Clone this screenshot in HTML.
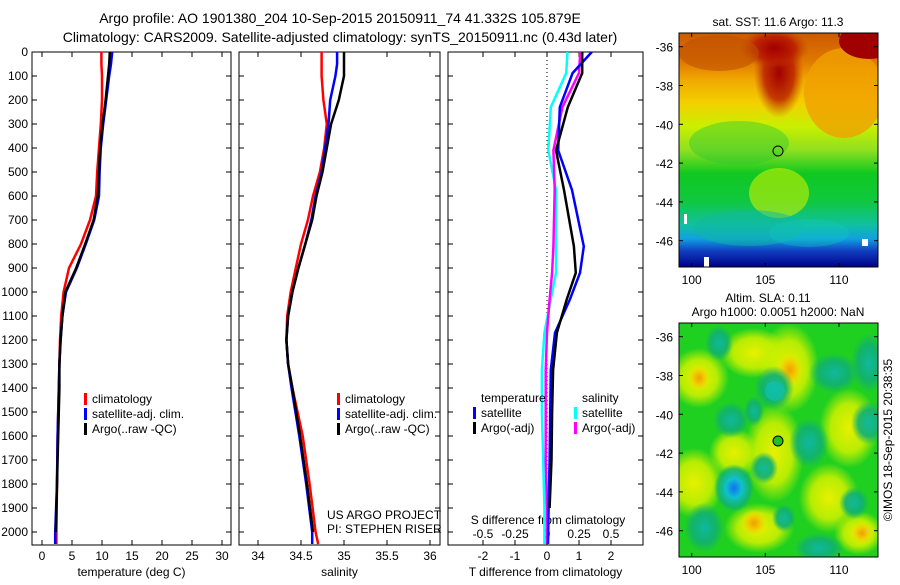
<!DOCTYPE html>
<html><head><meta charset="utf-8">
<style>
html,body{margin:0;padding:0;background:#fff;}
body{width:900px;height:580px;overflow:hidden;font-family:"Liberation Sans",sans-serif;}
svg text{font-family:"Liberation Sans",sans-serif;fill:#000;}
</style></head>
<body>
<svg id="chart" width="900" height="580" viewBox="0 0 900 580" xmlns="http://www.w3.org/2000/svg">
<defs>
<linearGradient id="sstg" x1="0" y1="0" x2="0" y2="1">
<stop offset="0" stop-color="#cc5a00"/>
<stop offset="0.12" stop-color="#e07800"/>
<stop offset="0.2" stop-color="#f0a800"/>
<stop offset="0.3" stop-color="#f4d000"/>
<stop offset="0.4" stop-color="#c8f000"/>
<stop offset="0.5" stop-color="#90e020"/>
<stop offset="0.6" stop-color="#10c820"/>
<stop offset="0.72" stop-color="#10c840"/>
<stop offset="0.82" stop-color="#10c0a0"/>
<stop offset="0.88" stop-color="#10a0e0"/>
<stop offset="0.93" stop-color="#1040c0"/>
<stop offset="1" stop-color="#000088"/>
</linearGradient>
<radialGradient id="blobY"><stop offset="0" stop-color="#e8f000"/><stop offset="0.6" stop-color="#c8f000" stop-opacity="0.9"/><stop offset="1" stop-color="#c8f000" stop-opacity="0"/></radialGradient>
<radialGradient id="blobO"><stop offset="0" stop-color="#f0a000"/><stop offset="0.5" stop-color="#f0d000"/><stop offset="1" stop-color="#e0f000" stop-opacity="0"/></radialGradient>
<radialGradient id="blobT"><stop offset="0" stop-color="#10b8a0"/><stop offset="0.6" stop-color="#10b070" stop-opacity="0.9"/><stop offset="1" stop-color="#10b070" stop-opacity="0"/></radialGradient>
<radialGradient id="blobB"><stop offset="0" stop-color="#1070f0"/><stop offset="0.4" stop-color="#10c0d0"/><stop offset="0.8" stop-color="#10b070" stop-opacity="0.8"/><stop offset="1" stop-color="#10b070" stop-opacity="0"/></radialGradient>
<radialGradient id="blobR"><stop offset="0" stop-color="#a00000"/><stop offset="0.6" stop-color="#b81800" stop-opacity="0.8"/><stop offset="1" stop-color="#c04000" stop-opacity="0"/></radialGradient>
</defs>

<text x="340" y="23" font-size="14" text-anchor="middle">Argo profile: AO 1901380_204 10-Sep-2015 20150911_74 41.332S 105.879E</text>
<text x="340" y="42" font-size="14" text-anchor="middle">Climatology: CARS2009. Satellite-adjusted climatology: synTS_20150911.nc (0.43d later)</text>

<g id="p1"></g>
<g id="p2"></g>
<g id="p3"></g>

<!-- SST map -->
<g>
<text x="778" y="26" font-size="12" text-anchor="middle">sat. SST: 11.6 Argo: 11.3</text>
<svg x="679" y="33" width="199" height="234" viewBox="0 0 199 234" preserveAspectRatio="none">
<rect width="199" height="234" fill="url(#sstg)"/>
<ellipse cx="165" cy="60" rx="40" ry="45" fill="#f0a000" opacity="0.8"/>
<ellipse cx="100" cy="40" rx="25" ry="45" fill="url(#blobR)"/>
<ellipse cx="95" cy="15" rx="35" ry="20" fill="url(#blobR)"/>
<ellipse cx="190" cy="8" rx="30" ry="18" fill="#a00000"/>
<ellipse cx="40" cy="20" rx="40" ry="18" fill="#c05000" opacity="0.6"/>
<ellipse cx="60" cy="110" rx="50" ry="22" fill="#30c830" opacity="0.45"/>
<ellipse cx="100" cy="160" rx="30" ry="25" fill="#c8f000" opacity="0.6"/>
<ellipse cx="70" cy="195" rx="55" ry="18" fill="#10b8a0" opacity="0.5"/>
<ellipse cx="130" cy="200" rx="40" ry="14" fill="#10c8c0" opacity="0.35"/>
<rect x="5" y="181" width="3" height="10" fill="#fff"/>
<rect x="25" y="224" width="5" height="10" fill="#fff"/>
<rect x="183" y="206" width="6" height="7" fill="#fff"/>
</svg>
<circle cx="778" cy="151" r="5" fill="none" stroke="#000" stroke-width="1"/>
<rect x="679" y="33" width="199" height="234" fill="none" stroke="#000" stroke-width="1"/>
<g id="m1ax"></g>
</g>

<!-- SLA map -->
<g>
<text x="768" y="302" font-size="12" text-anchor="middle">Altim. SLA: 0.11</text>
<text x="778" y="316" font-size="12" text-anchor="middle">Argo h1000: 0.0051 h2000: NaN</text>
<svg x="679" y="323" width="199" height="234" viewBox="0 0 199 234" preserveAspectRatio="none">
<rect width="199" height="234" fill="#20d020"/>
<ellipse cx="20" cy="55" rx="30" ry="30" fill="url(#blobY)"/>
<ellipse cx="15" cy="160" rx="30" ry="35" fill="url(#blobY)"/>
<ellipse cx="75" cy="30" rx="35" ry="25" fill="url(#blobY)"/>
<ellipse cx="110" cy="45" rx="30" ry="45" fill="url(#blobY)"/>
<ellipse cx="111" cy="47" rx="14" ry="18" fill="url(#blobO)"/>
<ellipse cx="20" cy="55" rx="12" ry="14" fill="url(#blobO)"/>
<ellipse cx="95" cy="130" rx="30" ry="50" fill="url(#blobY)"/>
<ellipse cx="55" cy="130" rx="25" ry="25" fill="url(#blobY)"/>
<ellipse cx="170" cy="105" rx="30" ry="40" fill="url(#blobY)"/>
<ellipse cx="150" cy="175" rx="30" ry="35" fill="url(#blobY)"/>
<ellipse cx="80" cy="205" rx="35" ry="25" fill="url(#blobY)"/>
<ellipse cx="75" cy="200" rx="14" ry="14" fill="url(#blobO)"/>
<ellipse cx="180" cy="210" rx="25" ry="22" fill="url(#blobY)"/>
<ellipse cx="183" cy="210" rx="12" ry="12" fill="url(#blobO)"/>
<ellipse cx="40" cy="20" rx="14" ry="18" fill="url(#blobT)"/>
<ellipse cx="95" cy="65" rx="20" ry="22" fill="url(#blobT)"/>
<ellipse cx="96" cy="68" rx="10" ry="10" fill="#10c0b0" opacity="0.7"/>
<ellipse cx="52" cy="97" rx="18" ry="18" fill="url(#blobT)"/>
<ellipse cx="75" cy="88" rx="10" ry="15" fill="url(#blobT)"/>
<ellipse cx="190" cy="100" rx="18" ry="22" fill="url(#blobT)"/>
<ellipse cx="190" cy="40" rx="18" ry="30" fill="url(#blobT)"/>
<ellipse cx="155" cy="50" rx="25" ry="20" fill="url(#blobT)"/>
<ellipse cx="55" cy="165" rx="20" ry="24" fill="url(#blobB)"/>
<ellipse cx="85" cy="145" rx="14" ry="16" fill="url(#blobT)"/>
<ellipse cx="25" cy="205" rx="20" ry="25" fill="url(#blobT)"/>
<ellipse cx="140" cy="225" rx="25" ry="15" fill="url(#blobT)"/>
<ellipse cx="130" cy="120" rx="20" ry="25" fill="url(#blobT)"/>
<ellipse cx="175" cy="180" rx="15" ry="16" fill="url(#blobT)"/>
<ellipse cx="105" cy="195" rx="12" ry="14" fill="url(#blobT)"/>
</svg>
<circle cx="778" cy="441" r="5" fill="#20c020" stroke="#000" stroke-width="1"/>
<rect x="679" y="323" width="199" height="234" fill="none" stroke="#000" stroke-width="1"/>
<g id="m2ax"></g>
</g>
<text transform="translate(892,440) rotate(-90)" font-size="12" text-anchor="middle">©IMOS 18-Sep-2015 20:38:35</text>
</svg>

<script>
// ---- data ----
const depthTS = [0,50,100,200,300,400,500,600,700,800,900,1000,1100,1200,1300,1400,1600,1800,2000,2050];
const tempClim = [9.9,9.9,10.0,10.0,9.8,9.5,9.2,9.0,8.0,6.5,4.5,3.6,3.2,3.0,2.9,2.8,2.6,2.5,2.4,2.4];
const tempSat  = [11.7,11.5,11.2,10.7,10.2,9.8,9.6,9.5,8.7,7.3,5.8,4.0,3.4,3.1,2.9,2.8,2.6,2.5,2.2,2.2];
const tempArgo = [11.3,11.2,11.0,10.6,10.1,9.7,9.5,9.3,8.6,7.2,5.7,3.9,3.4,3.1,2.9,2.9,2.7,2.5,2.3,2.3];
const salClim = [34.74,34.74,34.74,34.76,34.8,34.77,34.72,34.64,34.58,34.5,34.44,34.38,34.34,34.33,34.35,34.4,34.52,34.6,34.67,34.7];
const salSat  = [34.92,34.92,34.9,34.84,34.82,34.78,34.74,34.67,34.62,34.55,34.47,34.4,34.35,34.33,34.35,34.39,34.48,34.56,34.63,34.63];
const salArgo = [35.0,35.0,35.0,34.94,34.85,34.8,34.75,34.68,34.63,34.55,34.47,34.4,34.35,34.33,34.35,34.4,34.49,34.57,34.64,34.64];
const depthDiff = [0,88,230,410,575,810,920,1030,1170,1325,1500,1700,1900,2050];
const tDiffSat  = [1.4,0.8,0.4,0.35,0.78,1.15,1.03,0.72,0.25,0.12,0.1,0.08,0.05,0.03];
const tDiffArgo = [1.1,1.1,0.65,0.28,0.53,0.84,0.9,0.62,0.31,0.19,0.16,0.14,0.08,0.03];
const sDiffSat  = [0.16,0.15,0.03,0.01,0.07,0.07,0.07,0.03,-0.02,-0.04,-0.04,-0.03,-0.02,-0.02];
const sDiffArgo = [0.26,0.25,0.12,0.05,0.06,0.05,0.04,0.02,0.0,-0.01,-0.01,-0.01,0.0,0.0];
const depthTicks = [0,100,200,300,400,500,600,700,800,900,1000,1100,1200,1300,1400,1500,1600,1700,1800,1900,2000];
const tempTicks = [0,5,10,15,20,25,30];
const salTicks = [34,34.5,35,35.5,36];
const salTickLabels = ["34","34.5","35","35.5","36"];
const tDiffTicks = [-2,-1,0,1,2];
const sDiffTicks = [-0.5,-0.25,0,0.25,0.5];
const sDiffTickLabels = ["-0.5","-0.25","0","0.25","0.5"];
const latTicks = [-36,-38,-40,-42,-44,-46];
const lonTicks = [100,105,110];

const NS = "http://www.w3.org/2000/svg";
const TOP = 52, BOT = 545;
const yD = d => TOP + d * 0.24;
const xT = t => 42 + t * 6;
const xS = s => 258 + (s - 34) * 86;
const xTD = v => 547 + v * 32;
const xSD = v => 547 + v * 128;
const xLon = l => 691.7 + (l - 100) * 14.73;
function yLat1(l){ return 46.7 + (-36 - l) * 19.4; }
function yLat2(l){ return 336.7 + (-36 - l) * 19.4; }

function mk(tag, attrs, parent){
  const e = document.createElementNS(NS, tag);
  for (const k in attrs) e.setAttribute(k, attrs[k]);
  parent.appendChild(e);
  return e;
}
function txt(parent, x, y, s, anchor, size){
  const t = mk('text', {x:x, y:y, 'font-size':size||12, 'text-anchor':anchor||'start'}, parent);
  t.textContent = s;
  return t;
}
function line(parent, xs, ds, xf, color, name, w){
  const pts = xs.map((v,i)=> xf(v).toFixed(1)+','+yD(ds[i]).toFixed(1)).join(' ');
  const p = mk('polyline', {points:pts, fill:'none', stroke:color, 'stroke-width':w||2.5}, parent);
  
  
}
function frame(parent, x0, x1, ticks, xf, labels, xlabel){
  mk('rect', {x:x0, y:TOP, width:x1-x0, height:BOT-TOP, fill:'none', stroke:'#000', 'stroke-width':1}, parent);
  ticks.forEach((t,i)=>{
    const x = xf(t);
    mk('line', {x1:x, x2:x, y1:BOT, y2:BOT-5, stroke:'#000'}, parent);
    mk('line', {x1:x, x2:x, y1:TOP, y2:TOP+5, stroke:'#000'}, parent);
    if (labels) txt(parent, x, 560, labels[i], 'middle', 12);
  });
  depthTicks.forEach(d=>{
    mk('line', {x1:x0, x2:x0+5, y1:yD(d), y2:yD(d), stroke:'#000'}, parent);
    mk('line', {x1:x1-5, x2:x1, y1:yD(d), y2:yD(d), stroke:'#000'}, parent);
  });
  const xl = txt(parent, (x0+x1)/2, 576, xlabel, 'middle', 12);
  
  
}
function legend(parent, x, y, items){
  items.forEach((it,i)=>{
    mk('rect', {x:x, y:y+i*15-9, width:3, height:12, fill:it[1]}, parent);
    txt(parent, x+8, y+i*15+1, it[0], 'start', 12);
  });
}

// panel 1
const p1 = document.getElementById('p1');
frame(p1, 32, 231, tempTicks, xT, tempTicks.map(String), 'temperature (deg C)');
depthTicks.forEach(d=>{ const t = txt(p1, 28, yD(d)+4, String(d), 'end', 12);
  
   });
line(p1, tempClim, depthTS, xT, '#ff0000', 'temp-climatology-line');
line(p1, tempSat, depthTS, xT, '#0000ff', 'temp-satellite-line');
line(p1, tempArgo.slice(0,19), depthTS.slice(0,19), xT, '#000000', 'temp-argo-line');
legend(p1, 84, 402, [['climatology','#ff0000'],['satellite-adj. clim.','#0000ff'],['Argo(..raw -QC)','#000']]);

// panel 2
const p2 = document.getElementById('p2');
frame(p2, 239, 440, salTicks, xS, salTickLabels, 'salinity');
line(p2, salClim, depthTS, xS, '#ff0000', 'sal-climatology-line');
line(p2, salSat, depthTS, xS, '#0000ff', 'sal-satellite-line');
line(p2, salArgo.slice(0,19), depthTS.slice(0,19), xS, '#000000', 'sal-argo-line');
legend(p2, 337, 402, [['climatology','#ff0000'],['satellite-adj. clim.','#0000ff'],['Argo(..raw -QC)','#000']]);
txt(p2, 327, 519, 'US ARGO PROJECT', 'start', 12);
txt(p2, 327, 533, 'PI: STEPHEN RISER', 'start', 12);

// panel 3
const p3 = document.getElementById('p3');
frame(p3, 448, 643, tDiffTicks, xTD, tDiffTicks.map(String), 'T difference from climatology');
mk('line', {x1:547, x2:547, y1:TOP, y2:BOT, stroke:'#000', 'stroke-dasharray':'1,3'}, p3);
sDiffTicks.forEach((v,i)=> txt(p3, xSD(v), 538, sDiffTickLabels[i], 'middle', 12));
txt(p3, 548, 524, 'S difference from climatology', 'middle', 12);
line(p3, sDiffSat, depthDiff, xSD, '#00ffff', 'sdiff-satellite-line');
line(p3, sDiffArgo, depthDiff, xSD, '#ff00ff', 'sdiff-argo-line');
line(p3, tDiffSat, depthDiff, xTD, '#0000ff', 'tdiff-satellite-line');
line(p3, tDiffArgo.slice(0,13), depthDiff.slice(0,13), xTD, '#000000', 'tdiff-argo-line');
txt(p3, 481, 402, 'temperature', 'start', 12);
txt(p3, 582, 402, 'salinity', 'start', 12);
legend(p3, 473, 416, [['satellite','#0000ff'],['Argo(-adj)','#000']]);
legend(p3, 574, 416, [['satellite','#00ffff'],['Argo(-adj)','#ff00ff']]);

// map axes
function mapAxes(id, yf, y0, y1){
  const g = document.getElementById(id);
  latTicks.forEach(l=>{
    const y = yf(l);
    mk('line', {x1:679, x2:683, y1:y, y2:y, stroke:'#000'}, g);
    mk('line', {x1:874, x2:878, y1:y, y2:y, stroke:'#000'}, g);
    txt(g, 673, y+5, String(l), 'end', 12);
  });
  lonTicks.forEach(l=>{
    const x = xLon(l);
    mk('line', {x1:x, x2:x, y1:y0, y2:y0+4, stroke:'#000'}, g);
    mk('line', {x1:x, x2:x, y1:y1-4, y2:y1, stroke:'#000'}, g);
    txt(g, x, y1+17, String(l), 'middle', 12);
  });
}
mapAxes('m1ax', yLat1, 33, 267);
mapAxes('m2ax', yLat2, 323, 557);
</script>
</body></html>
